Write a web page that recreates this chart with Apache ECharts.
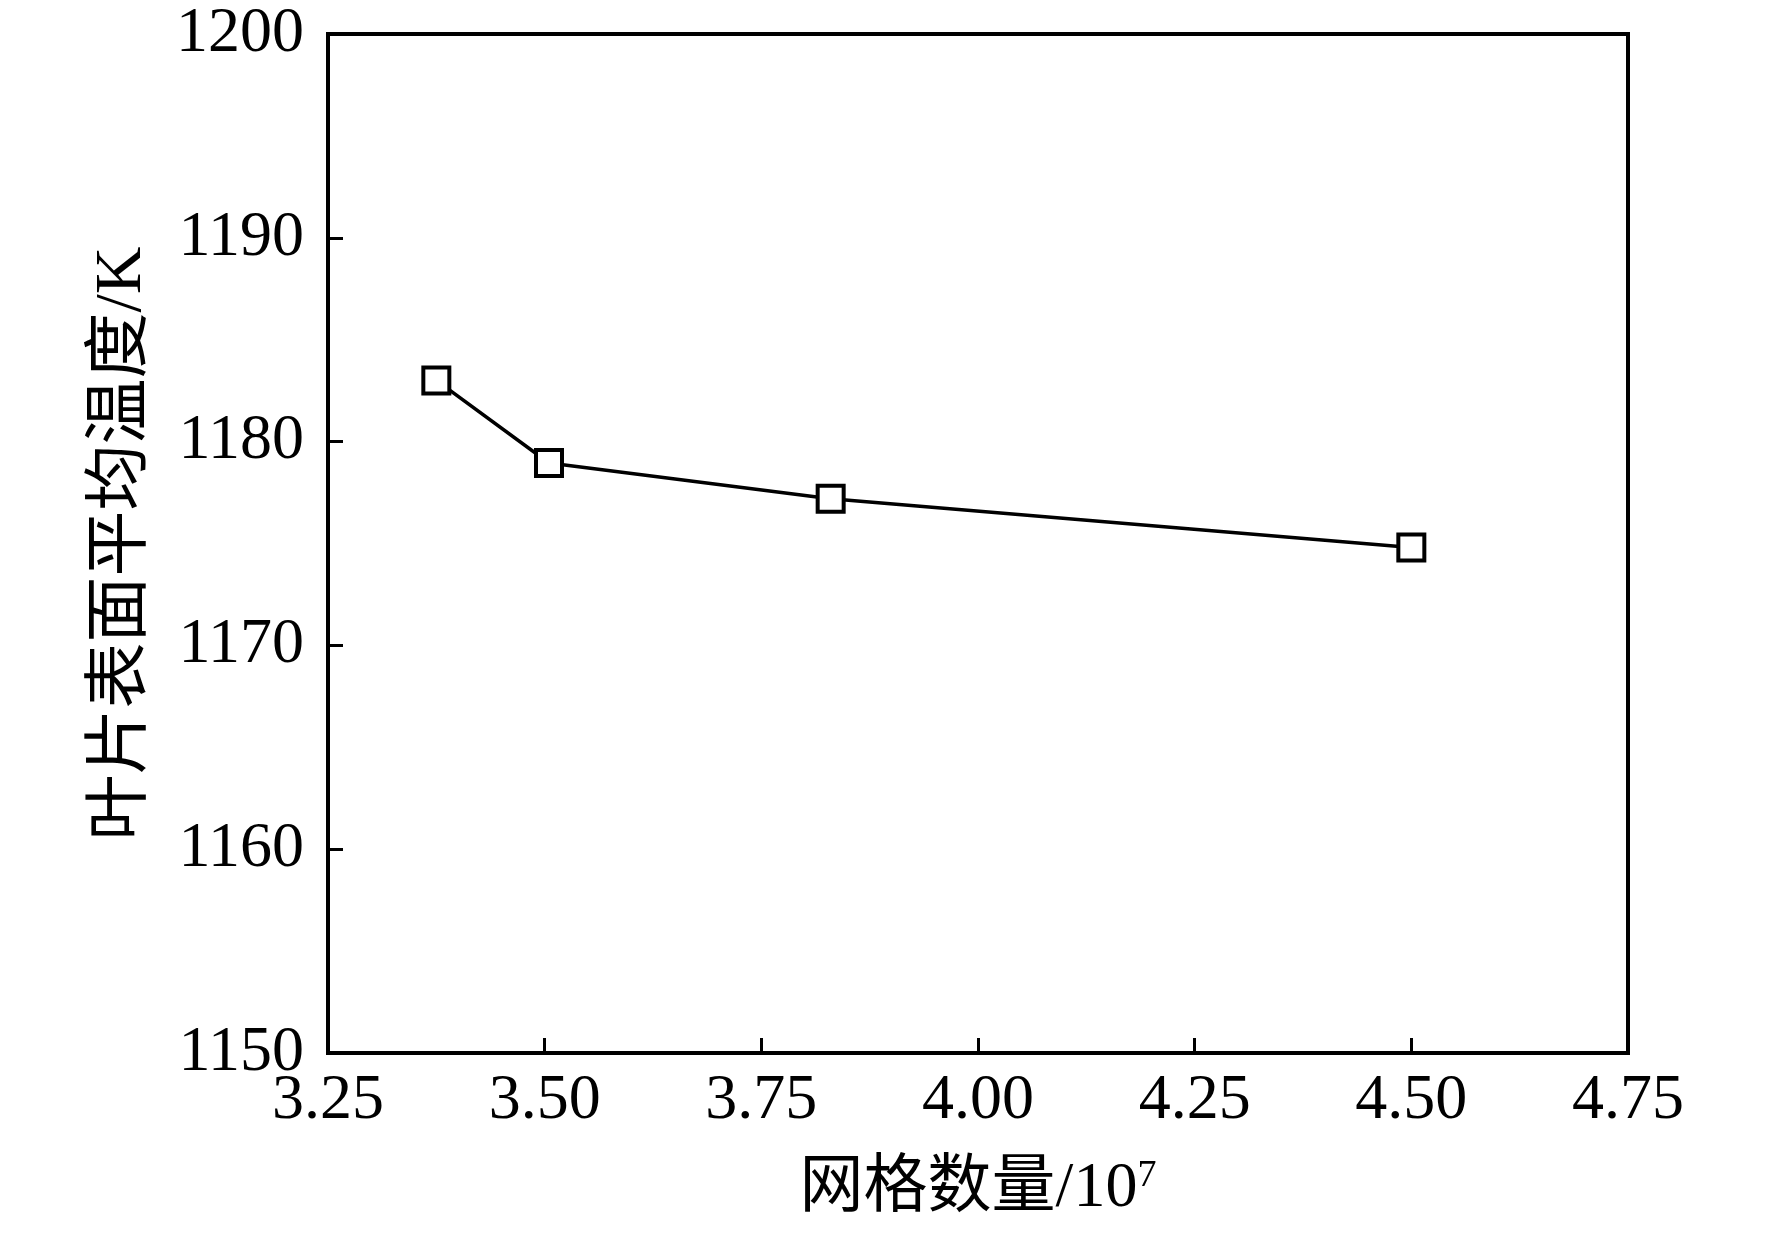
<!DOCTYPE html>
<html>
<head>
<meta charset="utf-8">
<script src="https://cdn.jsdelivr.net/npm/echarts@6/dist/echarts.min.js"></script>
<style>
  html, body { margin: 0; padding: 0; background: #fff; }
  #main { width: 1772px; height: 1234px; }
</style>
</head>
<body>
<div id="main"></div>
<script>
// 网格数量 (x 10^7)
var gridCounts = [3.375, 3.505, 3.83, 4.5];
// 叶片表面平均温度 (K)
var meanTemps = [1183.0, 1178.95, 1177.2, 1174.8];
var xTicks = { min: 3.25, max: 4.75, interval: 0.25 };
var yTicks = { min: 1150, max: 1200, interval: 10 };

var FONT = "'Liberation Serif', 'Times New Roman', 'Noto Sans CJK SC', serif";

var chart = echarts.init(document.getElementById('main'));

var points = gridCounts.map(function (x, i) {
    return [x, meanTemps[i]];
});

var option = {
    backgroundColor: '#fff',
    animation: false,
    grid: {
        left: 328,
        top: 34,
        right: 144,
        bottom: 181,
        show: true,
        borderColor: '#000',
        borderWidth: 4
    },
    xAxis: {
        type: 'value',
        min: xTicks.min,
        max: xTicks.max,
        interval: xTicks.interval,
        name: '网格数量/10{sup|7}',
        nameLocation: 'middle',
        nameGap: 104,
        nameTextStyle: {
            color: '#000',
            fontFamily: FONT,
            fontSize: 64,
            rich: {
                sup: { fontFamily: FONT, fontSize: 38, color: '#000', padding: [0, 0, 26, 0] }
            }
        },
        axisLine: { show: true, onZero: false, lineStyle: { color: '#000', width: 4 } },
        axisTick: { show: true, inside: true, length: 15, lineStyle: { color: '#000', width: 3 } },
        splitLine: { show: false },
        axisLabel: {
            color: '#000',
            fontFamily: FONT,
            fontSize: 64,
            margin: 16,
            formatter: function (v) { return v.toFixed(2); }
        }
    },
    yAxis: {
        type: 'value',
        min: yTicks.min,
        max: yTicks.max,
        interval: yTicks.interval,
        name: '叶片表面平均温度/K',
        nameLocation: 'middle',
        nameRotate: 90,
        nameGap: 172,
        nameTextStyle: { color: '#000', fontFamily: FONT, fontSize: 66 },
        axisLine: { show: true, onZero: false, lineStyle: { color: '#000', width: 4 } },
        axisTick: { show: true, inside: true, length: 15, lineStyle: { color: '#000', width: 3 } },
        splitLine: { show: false },
        axisLabel: {
            color: '#000',
            fontFamily: FONT,
            fontSize: 64,
            margin: 24,
            formatter: function (v) { return String(v); }
        }
    },
    series: [
        {
            type: 'line',
            data: points,
            symbol: 'rect',
            symbolSize: 26,
            showAllSymbol: true,
            lineStyle: { color: '#000', width: 3.5 },
            itemStyle: { color: '#fff', borderColor: '#000', borderWidth: 4 },
            z: 3
        }
    ]
};

chart.setOption(option);
</script>
</body>
</html>
